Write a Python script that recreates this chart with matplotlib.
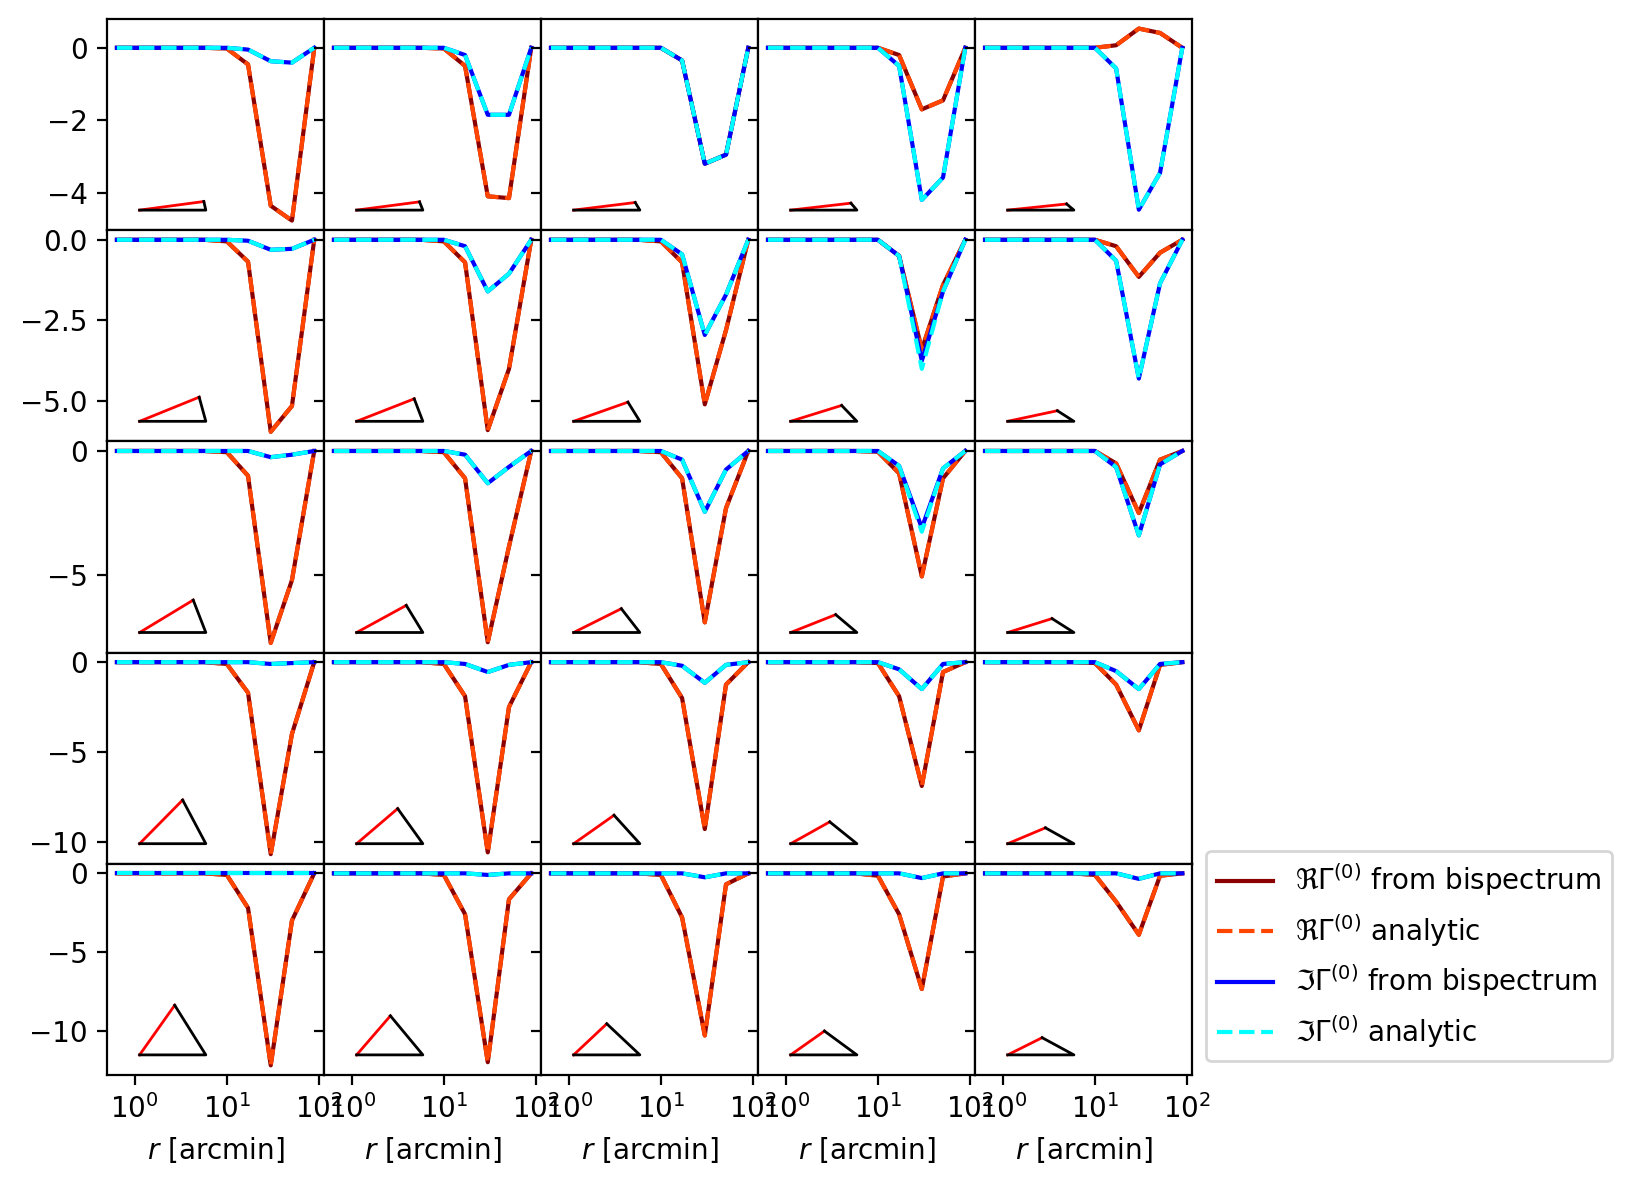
import numpy as np
import matplotlib
matplotlib.use("Agg")
from matplotlib import pyplot as plt

# radial bins [arcmin]
r = [0.64, 1.1, 1.9, 3.3, 5.7, 10.0, 17.0, 30.0, 51.0, 89.0]

# real part (bispectrum integration), one list per panel, rows top to bottom
re_row1 = [[0, 0, 0, 0, 0, -0.02, -0.46, -4.36, -4.77, -0.02],
           [0, 0, 0, 0, 0, -0.02, -0.50, -4.10, -4.15, 0.0],
           [0, 0, 0, 0, 0, 0.0, -0.35, -3.20, -2.95, 0.0],
           [0, 0, 0, 0, 0, 0.0, -0.20, -1.70, -1.45, 0.0],
           [0, 0, 0, 0, 0, 0.0, 0.07, 0.53, 0.41, 0.0]]
re_row2 = [[0, 0, 0, 0, 0, -0.05, -0.68, -5.95, -5.15, 0.0],
           [0, 0, 0, 0, 0, -0.05, -0.70, -5.90, -4.00, 0.0],
           [0, 0, 0, 0, 0, -0.05, -0.70, -5.10, -2.80, 0.0],
           [0, 0, 0, 0, 0, 0.0, -0.50, -3.40, -1.40, 0.0],
           [0, 0, 0, 0, 0, 0.0, -0.20, -1.15, -0.40, 0.0]]
re_row3 = [[0, 0, 0, 0, 0, -0.05, -1.00, -7.73, -5.20, 0.0],
           [0, 0, 0, 0, 0, -0.05, -1.10, -7.70, -3.85, 0.0],
           [0, 0, 0, 0, 0, -0.05, -1.10, -6.90, -2.30, 0.0],
           [0, 0, 0, 0, 0, -0.03, -0.90, -5.05, -1.10, 0.0],
           [0, 0, 0, 0, 0, 0.0, -0.50, -2.50, -0.35, 0.0]]
re_row4 = [[0, 0, 0, 0, 0, -0.10, -1.70, -10.70, -4.00, 0.0],
           [0, 0, 0, 0, 0, -0.10, -1.90, -10.60, -2.50, 0.0],
           [0, 0, 0, 0, 0, -0.10, -2.00, -9.30, -1.25, 0.0],
           [0, 0, 0, 0, 0, -0.05, -1.90, -6.90, -0.55, 0.0],
           [0, 0, 0, 0, 0, -0.05, -1.25, -3.80, -0.15, 0.0]]
re_row5 = [[0, 0, 0, 0, 0, -0.10, -2.20, -12.20, -3.00, 0.0],
           [0, 0, 0, 0, 0, -0.10, -2.60, -12.00, -1.65, 0.0],
           [0, 0, 0, 0, 0, -0.10, -2.80, -10.30, -0.70, 0.0],
           [0, 0, 0, 0, 0, -0.15, -2.60, -7.35, -0.20, 0.0],
           [0, 0, 0, 0, 0, -0.10, -1.80, -3.90, -0.15, 0.0]]

# imaginary part (bispectrum integration)
im_row1 = [[0, 0, 0, 0, 0, 0.0, -0.05, -0.37, -0.41, 0.0],
           [0, 0, 0, 0, 0, 0.0, -0.20, -1.85, -1.85, 0.0],
           [0, 0, 0, 0, 0, 0.0, -0.35, -3.20, -2.95, 0.0],
           [0, 0, 0, 0, 0, 0.0, -0.50, -4.20, -3.58, 0.0],
           [0, 0, 0, 0, 0, 0.0, -0.57, -4.47, -3.45, 0.0]]
im_row2 = [[0, 0, 0, 0, 0, 0.0, -0.03, -0.31, -0.28, 0.0],
           [0, 0, 0, 0, 0, 0.0, -0.20, -1.60, -1.05, 0.0],
           [0, 0, 0, 0, 0, 0.0, -0.45, -2.95, -1.70, 0.0],
           [0, 0, 0, 0, 0, 0.0, -0.50, -3.75, -1.60, 0.0],
           [0, 0, 0, 0, 0, 0.0, -0.65, -4.30, -1.35, 0.0]]
im_row3 = [[0, 0, 0, 0, 0, 0.0, 0.0, -0.25, -0.15, 0.0],
           [0, 0, 0, 0, 0, 0.0, -0.15, -1.30, -0.64, 0.0],
           [0, 0, 0, 0, 0, 0.0, -0.35, -2.45, -0.75, 0.0],
           [0, 0, 0, 0, 0, 0.0, -0.60, -3.10, -0.70, 0.0],
           [0, 0, 0, 0, 0, 0.0, -0.65, -3.40, -0.54, 0.0]]
im_row4 = [[0, 0, 0, 0, 0, 0.0, 0.0, -0.10, -0.05, 0.0],
           [0, 0, 0, 0, 0, 0.0, -0.10, -0.55, -0.15, 0.0],
           [0, 0, 0, 0, 0, 0.0, -0.20, -1.15, -0.15, 0.0],
           [0, 0, 0, 0, 0, 0.0, -0.40, -1.50, -0.10, 0.0],
           [0, 0, 0, 0, 0, 0.0, -0.50, -1.50, -0.10, 0.0]]
im_row5 = [[0, 0, 0, 0, 0, 0.0, 0.0, 0.0, 0.0, 0.0],
           [0, 0, 0, 0, 0, 0.0, 0.0, -0.10, 0.0, 0.0],
           [0, 0, 0, 0, 0, 0.0, 0.0, -0.25, 0.0, 0.0],
           [0, 0, 0, 0, 0, 0.0, 0.0, -0.30, 0.0, 0.0],
           [0, 0, 0, 0, 0, 0.0, 0.0, -0.35, 0.0, 0.0]]

re_bisp = [re_row1, re_row2, re_row3, re_row4, re_row5]
im_bisp = [im_row1, im_row2, im_row3, im_row4, im_row5]

# analytic curves: same as the bispectrum ones except for these panels
im_ana_diff = {(1, 3): [0, 0, 0, 0, 0, 0.0, -0.50, -4.00, -1.60, 0.0],
               (2, 3): [0, 0, 0, 0, 0, 0.0, -0.60, -3.25, -0.70, 0.0]}

# triangle configuration sketch: apex position relative to base (units of base length)
tri_fx = [[0.97, 0.95, 0.93, 0.91, 0.89],
          [0.90, 0.87, 0.82, 0.77, 0.75],
          [0.81, 0.75, 0.72, 0.68, 0.67],
          [0.65, 0.62, 0.61, 0.59, 0.57],
          [0.53, 0.51, 0.50, 0.51, 0.52]]
tri_fy = [[0.13, 0.125, 0.115, 0.105, 0.093],
          [0.365, 0.34, 0.29, 0.24, 0.16],
          [0.49, 0.41, 0.36, 0.27, 0.21],
          [0.66, 0.53, 0.43, 0.33, 0.24],
          [0.75, 0.59, 0.47, 0.36, 0.26]]

fig, axis = plt.subplots(5, 5, figsize=(8.16, 5.935), dpi=200, sharex=True, sharey='row')
fig.subplots_adjust(left=0.0656, right=0.7305, top=0.984, bottom=0.0944, wspace=0, hspace=0)

for i in range(5):
    for j in range(5):
        ax = axis[i, j]
        re_b = re_bisp[i][j]
        im_b = im_bisp[i][j]
        im_a = im_ana_diff.get((i, j), im_b)
        ax.plot(r, re_b, color='darkred', ls='-', label=r'$\Re\Gamma^{(0)}$ from bispectrum')
        ax.plot(r, re_b, color='orangered', ls='--', label=r'$\Re\Gamma^{(0)}$ analytic')
        ax.plot(r, im_b, color='blue', ls='-', label=r'$\Im\Gamma^{(0)}$ from bispectrum')
        ax.plot(r, im_a, color='cyan', ls='--', label=r'$\Im\Gamma^{(0)}$ analytic')
        ax.set_xscale('log')
        ax.minorticks_off()

        # little triangle in axes coordinates
        pos = ax.get_position()
        aspect = (pos.width * fig.get_figwidth()) / (pos.height * fig.get_figheight())
        x0, y0, L = 0.15, 0.095, 0.305
        ax_x = x0 + tri_fx[i][j] * L
        ax_y = y0 + tri_fy[i][j] * L * aspect
        ax.plot([x0, ax_x], [y0, ax_y], color='red', lw=1, transform=ax.transAxes)
        ax.plot([ax_x, x0 + L, x0], [ax_y, y0, y0], color='black', lw=1, transform=ax.transAxes)

for j in range(5):
    axis[4, j].set_xlabel(r'$r$ [arcmin]')
    axis[4, j].set_xticks([1, 10, 100])

axis[4, 4].legend(loc='lower left', bbox_to_anchor=(1, 0))

plt.savefig('out.png', dpi=200)
